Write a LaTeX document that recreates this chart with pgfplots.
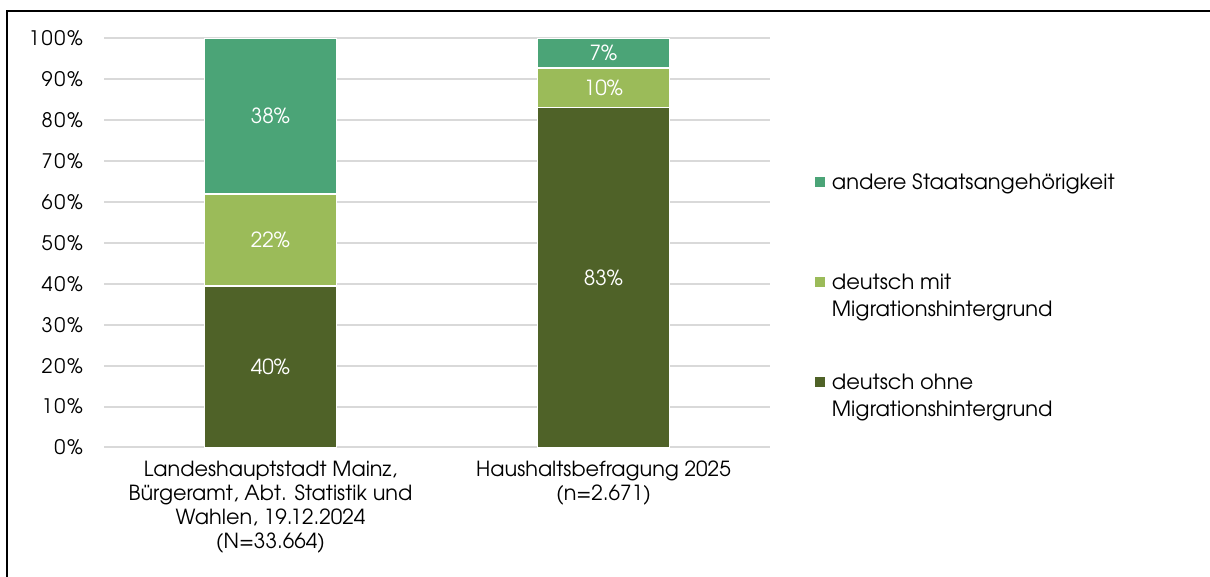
\documentclass[border=0pt]{standalone}
\usepackage{fontspec}
\setmainfont{TeX Gyre Adventor}
\usepackage{pgfplots}
\pgfplotsset{compat=1.18}
\definecolor{dkg}{HTML}{4F6228}
\definecolor{ltg}{HTML}{9BBB59}
\definecolor{tealg}{HTML}{4BA477}
\definecolor{gridc}{HTML}{D9D9D9}
\begin{document}
\begin{tikzpicture}[x=1bp,y=1bp]
\useasboundingbox (0,0) rectangle (1210,577);
\draw[line width=2bp] (7,0) -- (7,566) -- (1210,566);
\begin{axis}[
  at={(104bp,129.5bp)}, anchor=south west,
  scale only axis, width=666bp, height=409bp,
  ybar stacked, bar width=132bp,
  xmin=-0.5, xmax=1.5, ymin=0, ymax=100,
  axis line style={draw=none},
  major tick length=0pt,
  ytick={0,10,...,100},
  yticklabel={\pgfmathprintnumber{\tick}\%},
  ymajorgrids, grid style={draw=gridc, line width=2bp},
  xtick={0,1},
  xticklabels={{Landeshauptstadt Mainz,\\Bürgeramt, Abt. Statistik und\\Wahlen, 19.12.2024\\(N=33.664)},{Haushaltsbefragung 2025\\(n=2.671)}},
  x tick label style={align=center, font=\fontsize{20.8bp}{24bp}\selectfont, anchor=north, inner sep=0pt, yshift=-13bp},
  y tick label style={font=\fontsize{20bp}{22bp}\selectfont\addfontfeature{LetterSpace=9}, anchor=east, inner sep=0pt, xshift=-21bp},
  /pgf/number format/assume math mode=true,
  point meta=explicit symbolic,
  nodes near coords,
  every node near coord/.append style={font=\fontsize{20.8bp}{22bp}\selectfont, text=white, anchor=center},
  legend style={at={(1.063,0.674)}, anchor=north west, draw=none, fill=none,
    font=\fontsize{21bp}{27bp}\selectfont, row sep=56bp, column sep=0pt,
    cells={align=left}, nodes={inner sep=0pt}},
  legend cell align=left,
  reverse legend,
  legend image code/.code={\fill[#1,draw=none] (0bp,9bp) rectangle (10bp,19bp); \path (16bp,0bp);},
]
\addplot[fill=dkg, draw=white, line width=1.5bp] coordinates {(0,39.5) [40\%] (1,83.1) [83\%]};
\addlegendentry{deutsch ohne\\Migrationshintergrund}
\addplot[fill=ltg, draw=white, line width=1.5bp] coordinates {(0,22.5) [22\%] (1,9.7) [10\%]};
\addlegendentry{deutsch mit\\Migrationshintergrund}
\addplot[fill=tealg, draw=white, line width=1.5bp] coordinates {(0,38.0) [38\%] (1,7.2) [7\%]};
\addlegendentry{andere Staatsangehörigkeit\\\mbox{}}
\end{axis}
\end{tikzpicture}
\end{document}
